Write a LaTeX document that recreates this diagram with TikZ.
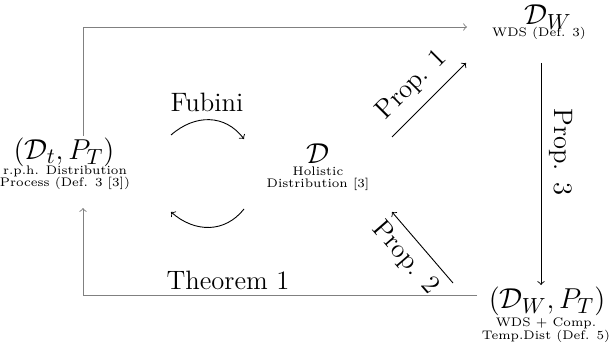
\documentclass[tikz,border=0pt]{standalone}
\usetikzlibrary{calc}
\begin{document}
\begin{tikzpicture}[x=0.5pt,y=-0.5pt,
  mainlbl/.style={inner sep=0pt,font=\fontsize{15}{18}\selectfont},
  sublbl/.style={inner sep=0pt,align=center,font=\fontsize{6.2}{6.2}\selectfont},
  edgelbl/.style={inner sep=0pt,font=\fontsize{13.3}{16}\selectfont},
  gconn/.style={draw=gray,line width=0.45pt,->},
  bconn/.style={draw=black,line width=0.45pt,->}]
\useasboundingbox (0,0) rectangle (613,358);
% nodes
\node[mainlbl] (L) at (64,152) {$(\mathcal{D}_t,P_T)$};
\node[sublbl] (Ls) at (65,178) {r.p.h. Distribution\\Process (Def. 3 [3])};
\node[mainlbl] (H) at (318,154) {$\mathcal{D}$};
\node[sublbl] (Hs) at (318,179) {Holistic\\Distribution [3]};
\node[mainlbl] (W) at (548,17) {$\mathcal{D}_W$};
\node[sublbl] (Ws) at (539,33) {WDS (Def. 3)};
\node[mainlbl] (WP) at (547,301) {$(\mathcal{D}_W,P_T)$};
\node[sublbl] (WPs) at (546,330) {WDS + Comp.\\Temp.Dist (Def. 5)};
% coordinates
\coordinate (tl) at (83,27);
\coordinate (tr) at (467,27);
\coordinate (bl) at (83,295);
\coordinate (br) at (477,295);
\coordinate (la) at (83,136);
\coordinate (lb) at (83,208);
\coordinate (f1) at (171,135);
\coordinate (f2) at (244,139);
\coordinate (g1) at (244,209);
\coordinate (g2) at (171,212);
\coordinate (p1a) at (392,137);
\coordinate (p1b) at (466,63);
\coordinate (p2a) at (453,283);
\coordinate (p2b) at (392,212);
\coordinate (p3a) at (541,63);
\coordinate (p3b) at (541,285);
% connectors
\draw[gconn] (la) -- (tl) -- (tr);
\draw[gconn] (br) -- (bl) -- (lb);
\draw[bconn] (f1) .. controls (195,114) and (225,114) .. (f2);
\draw[bconn] (g1) .. controls (225,233) and (195,233) .. (g2);
\draw[bconn] (p1a) -- (p1b);
\draw[bconn] (p2a) -- (p2b);
\draw[bconn] (p3a) -- (p3b);
% labels
\node[edgelbl] (fub) at (207,102) {Fubini};
\node[edgelbl] (thm) at (228,280) {Theorem 1};
\node[edgelbl,rotate=45] (pr1) at (412,85) {Prop. 1};
\node[edgelbl,rotate=-49] (pr2) at (405,258) {Prop. 2};
\node[edgelbl,rotate=-90] (pr3) at (561,152) {Prop. 3};
\end{tikzpicture}
\end{document}
